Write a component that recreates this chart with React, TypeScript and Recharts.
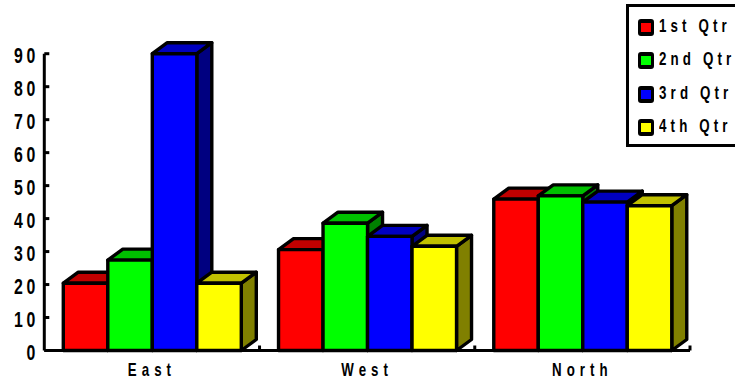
import React from 'react';
import { BarChart, Bar, XAxis, YAxis, Legend } from 'recharts';

const regions = ['East', 'West', 'North'];
const qtr1 = [20.4, 30.6, 45.9];
const qtr2 = [27.4, 38.6, 46.9];
const qtr3 = [90, 34.6, 45];
const qtr4 = [20.4, 31.6, 43.9];
const valueTicks = [0, 10, 20, 30, 40, 50, 60, 70, 80, 90];

const chartData = regions.map((region, i) => ({
  region,
  qtr1: qtr1[i],
  qtr2: qtr2[i],
  qtr3: qtr3[i],
  qtr4: qtr4[i],
}));

const DEPTH_X = 15;
const DEPTH_Y = 11;
const FONT = '"Liberation Sans", Arial, sans-serif';
const SQUEEZE = 0.74;

// Front, top and side faces of one extruded bar
function Box3D({ x, y, width, height, fill, topFill, sideFill }: any) {
  const right = x + width;
  const bottom = y + height;
  const top = `${x},${y} ${x + DEPTH_X},${y - DEPTH_Y} ${right + DEPTH_X},${y - DEPTH_Y} ${right},${y}`;
  const side = `${right},${y} ${right + DEPTH_X},${y - DEPTH_Y} ${right + DEPTH_X},${bottom - DEPTH_Y} ${right},${bottom}`;
  return (
    <g stroke="#000" strokeWidth={3.4} strokeLinejoin="round">
      <polygon points={side} fill={sideFill} />
      <polygon points={top} fill={topFill} />
      <rect x={x} y={y} width={width} height={height} fill={fill} />
    </g>
  );
}

// Condensed, widely tracked tick labels
function ValueTick({ x, y, payload }: any) {
  return (
    <text
      transform={`translate(${x} ${y + 9.5}) scale(0.72 1)`}
      textAnchor="end"
      fontFamily={FONT}
      fontWeight={700}
      fontSize={22}
      letterSpacing={5}
      fill="#000"
    >
      {payload.value}
    </text>
  );
}

// Region label, plus the small inward mark on the right edge of its band
function RegionTick({ x, y, width, payload }: any) {
  const edge = x + width / (2 * regions.length);
  return (
    <g>
      <line x1={edge} x2={edge} y1={y - 8} y2={y - 13} stroke="#000" strokeWidth={3} />
      <text
        transform={`translate(${x} ${y + 17.5}) scale(${SQUEEZE} 1)`}
        textAnchor="middle"
        fontFamily={FONT}
        fontWeight={700}
        fontSize={18}
        letterSpacing={6.8}
        fill="#000"
      >
        {payload.value}
      </text>
    </g>
  );
}

function QuarterLegend({ payload }: any) {
  return (
    <div
      style={{
        boxSizing: 'border-box',
        width: 130,
        height: 143,
        border: '3.5px solid #000',
        background: '#fff',
        paddingTop: 4,
      }}
    >
      {(payload || []).map((entry: any) => (
        <div key={entry.value} style={{ display: 'flex', alignItems: 'center', height: 33.3 }}>
          <span
            style={{
              boxSizing: 'border-box',
              flex: 'none',
              width: 16,
              height: 17,
              marginLeft: 9,
              border: '3px solid #000',
              borderTopWidth: 4,
              borderBottomWidth: 4,
              borderRadius: 3,
              background: entry.color,
            }}
          />
          <span
            style={{
              marginLeft: 5,
              marginTop: -2,
              fontFamily: FONT,
              fontWeight: 700,
              fontSize: 18,
              letterSpacing: 5.6,
              whiteSpace: 'pre',
              color: '#000',
              transform: `scaleX(${SQUEEZE})`,
              transformOrigin: 'left center',
            }}
          >
            {entry.value}
          </span>
        </div>
      ))}
    </div>
  );
}

const boxShape = (topFill: string, sideFill: string) => (props: any) => (
  <Box3D {...props} topFill={topFill} sideFill={sideFill} />
);

export default function App() {
  return (
    <div style={{ position: 'absolute', left: 0, top: 0, width: 735, height: 383, overflow: 'hidden', background: '#fff' }}>
      <BarChart
        width={735}
        height={383}
        data={chartData}
        margin={{ top: 53.7, right: 45, bottom: 0, left: 0 }}
        barSize={44.5}
        barGap={0}
      >
        <XAxis
          dataKey="region"
          height={32.5}
          axisLine={{ stroke: '#000', strokeWidth: 3 }}
          tickLine={false}
          tick={RegionTick}
        />
        <YAxis
          domain={[0, 90]}
          ticks={valueTicks}
          interval={0}
          width={44.3}
          axisLine={{ stroke: '#000', strokeWidth: 3 }}
          tickLine={{ stroke: '#000', strokeWidth: 3 }}
          tickSize={-5}
          tickMargin={10.5}
          tick={ValueTick}
        />
        <Legend
          layout="horizontal"
          align="center"
          verticalAlign="middle"
          wrapperStyle={{ left: 626, top: 4, width: 130, height: 143 }}
          content={<QuarterLegend />}
        />
        <Bar dataKey="qtr1" name="1st Qtr" fill="#ff0000" isAnimationActive={false} shape={boxShape('#c00000', '#800000')} />
        <Bar dataKey="qtr2" name="2nd Qtr" fill="#00ff00" isAnimationActive={false} shape={boxShape('#00c000', '#008000')} />
        <Bar dataKey="qtr3" name="3rd Qtr" fill="#0000ff" isAnimationActive={false} shape={boxShape('#0000c0', '#000080')} />
        <Bar dataKey="qtr4" name="4th Qtr" fill="#ffff00" isAnimationActive={false} shape={boxShape('#c0c000', '#808000')} />
      </BarChart>
    </div>
  );
}
